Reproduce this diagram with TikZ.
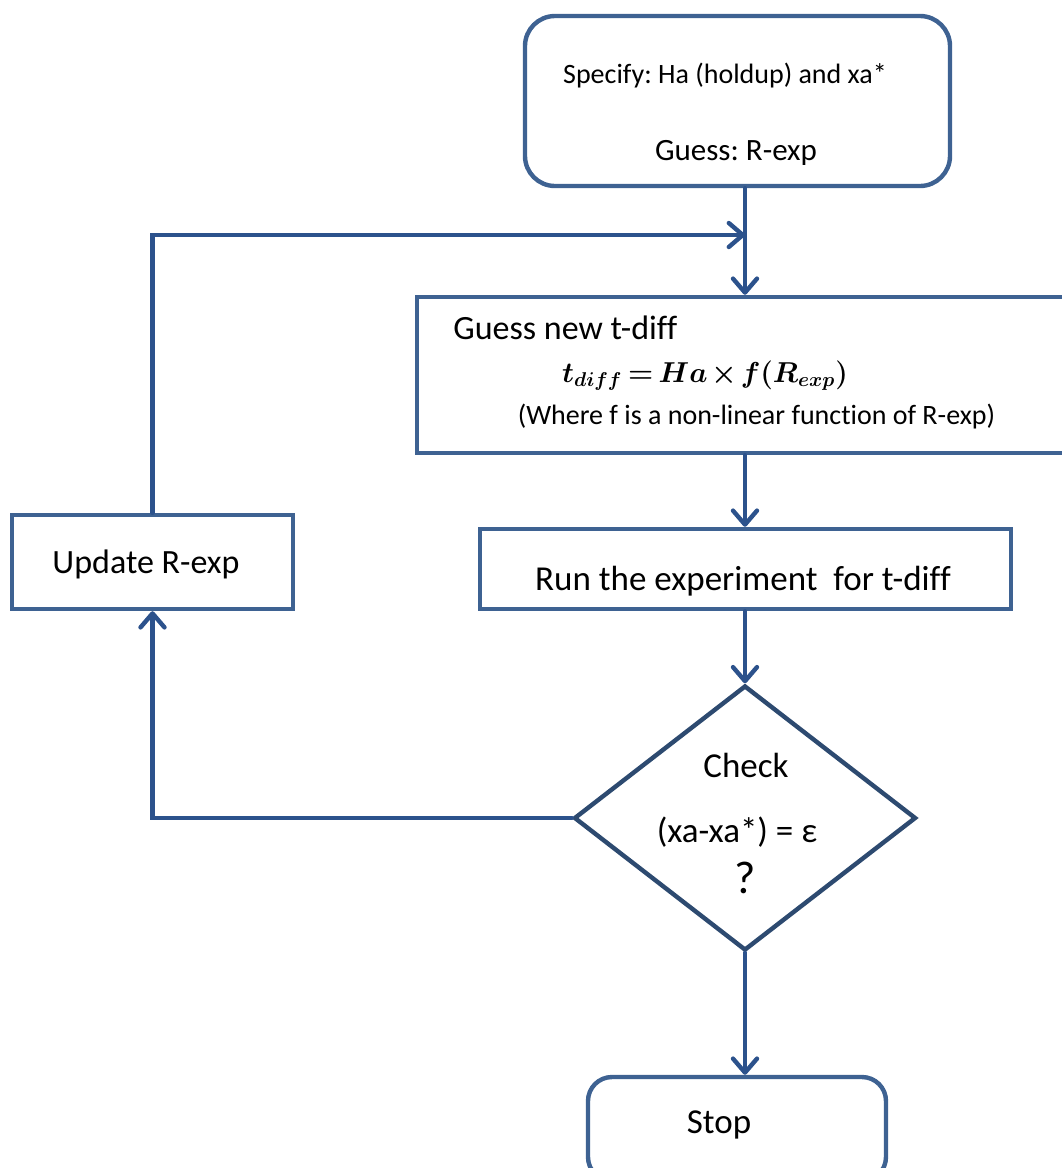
\documentclass[tikz,border=0pt]{standalone}
\usepackage{fontspec}
\setmainfont{Carlito}[Ligatures=CommonOff]
\usepackage{amsmath,bm}
\usetikzlibrary{shapes.geometric,arrows.meta}
\definecolor{boxcol}{RGB}{62,98,146}
\definecolor{diacol}{RGB}{45,74,112}
\definecolor{arrcol}{RGB}{44,82,140}
\tikzset{
  px/.style={x=0.5pt,y=-0.5pt},
  box/.style={draw=boxcol,line width=2.2pt,rectangle,inner sep=0pt,fill=white},
  rbox/.style={box,rounded corners=15pt},
  dia/.style={draw=diacol,line width=2.2pt,diamond,inner sep=0pt,fill=white},
  conn/.style={draw=arrcol,line width=2.2pt,line cap=round,line join=miter},
  arr/.style={conn,-{Straight Barb[length=7pt,width=12pt,line cap=round,line join=round]}},
  txt/.style={inner sep=0pt,anchor=base,text=black},
}
\frenchspacing
\begin{document}
\begin{tikzpicture}[px]
\useasboundingbox (0,0) rectangle (1061,1168);
% shapes
\node[rbox,minimum width=212.5pt,minimum height=85pt] (top) at (737.5,101) {};
\node[box,minimum width=329pt,minimum height=78pt] (guess) at (746,375) {};
\node[box,minimum width=265.5pt,minimum height=40pt] (run) at (745.5,569) {};
\node[box,minimum width=140.5pt,minimum height=47pt] (update) at (152.5,562) {};
\node[dia,minimum width=171pt,minimum height=132.5pt] (check) at (745,818) {};
\node[rbox,rounded corners=12pt,minimum width=149pt,minimum height=52pt] (stop) at (737,1129) {};
\coordinate (join) at (745,235);
% texts
\node[txt,font=\fontsize{14}{16}\selectfont] (t1) at (725,83) {Specify: Ha (holdup) and xa*};
\node[txt,font=\fontsize{15.5}{18}\selectfont] (t2) at (736,160) {Guess: R-exp};
\node[txt,anchor=base west,font=\fontsize{17}{20}\selectfont] (t3) at (453,339) {Guess new t-diff};
\node[txt,font=\fontsize{14.5}{17}\selectfont\boldmath] (t4) at (705,382) {\thickmuskip=3mu\medmuskip=2mu$t_{diff} = Ha \times f(R_{exp})$};
\node[txt,font=\fontsize{14}{16}\selectfont] (t5) at (756.5,424) {(Where f is a non-linear function of R-exp)};
\node[txt,font=\fontsize{17.5}{20}\selectfont] (t6) at (743,590) {Run the experiment\ \ for t-diff};
\node[txt,font=\fontsize{17}{20}\selectfont] (t7) at (146,573) {Update R-exp};
\node[txt,font=\fontsize{17.5}{20}\selectfont] (t8) at (746,777) {Check};
\node[txt,font=\fontsize{17.5}{20}\selectfont] (t9) at (737,842) {(xa-xa*) = ε};
\node[txt,font=\fontsize{23}{26}\selectfont] (t10) at (745,893) {?};
\node[txt,font=\fontsize{17.5}{20}\selectfont] (t11) at (719,1133) {Stop};
% connectors
\draw[arr] (top.south -| join) -- (guess.north -| join);
\draw[arr] (guess.south -| join) -- (run.north -| join);
\draw[arr] (run.south -| join) -- (check.north);
\draw[arr] (check.south) -- (stop.north -| check.south);
\draw[arr] (update.north) |- (join);
\draw[arr] (check.west) -| (update.south);
\end{tikzpicture}
\end{document}
